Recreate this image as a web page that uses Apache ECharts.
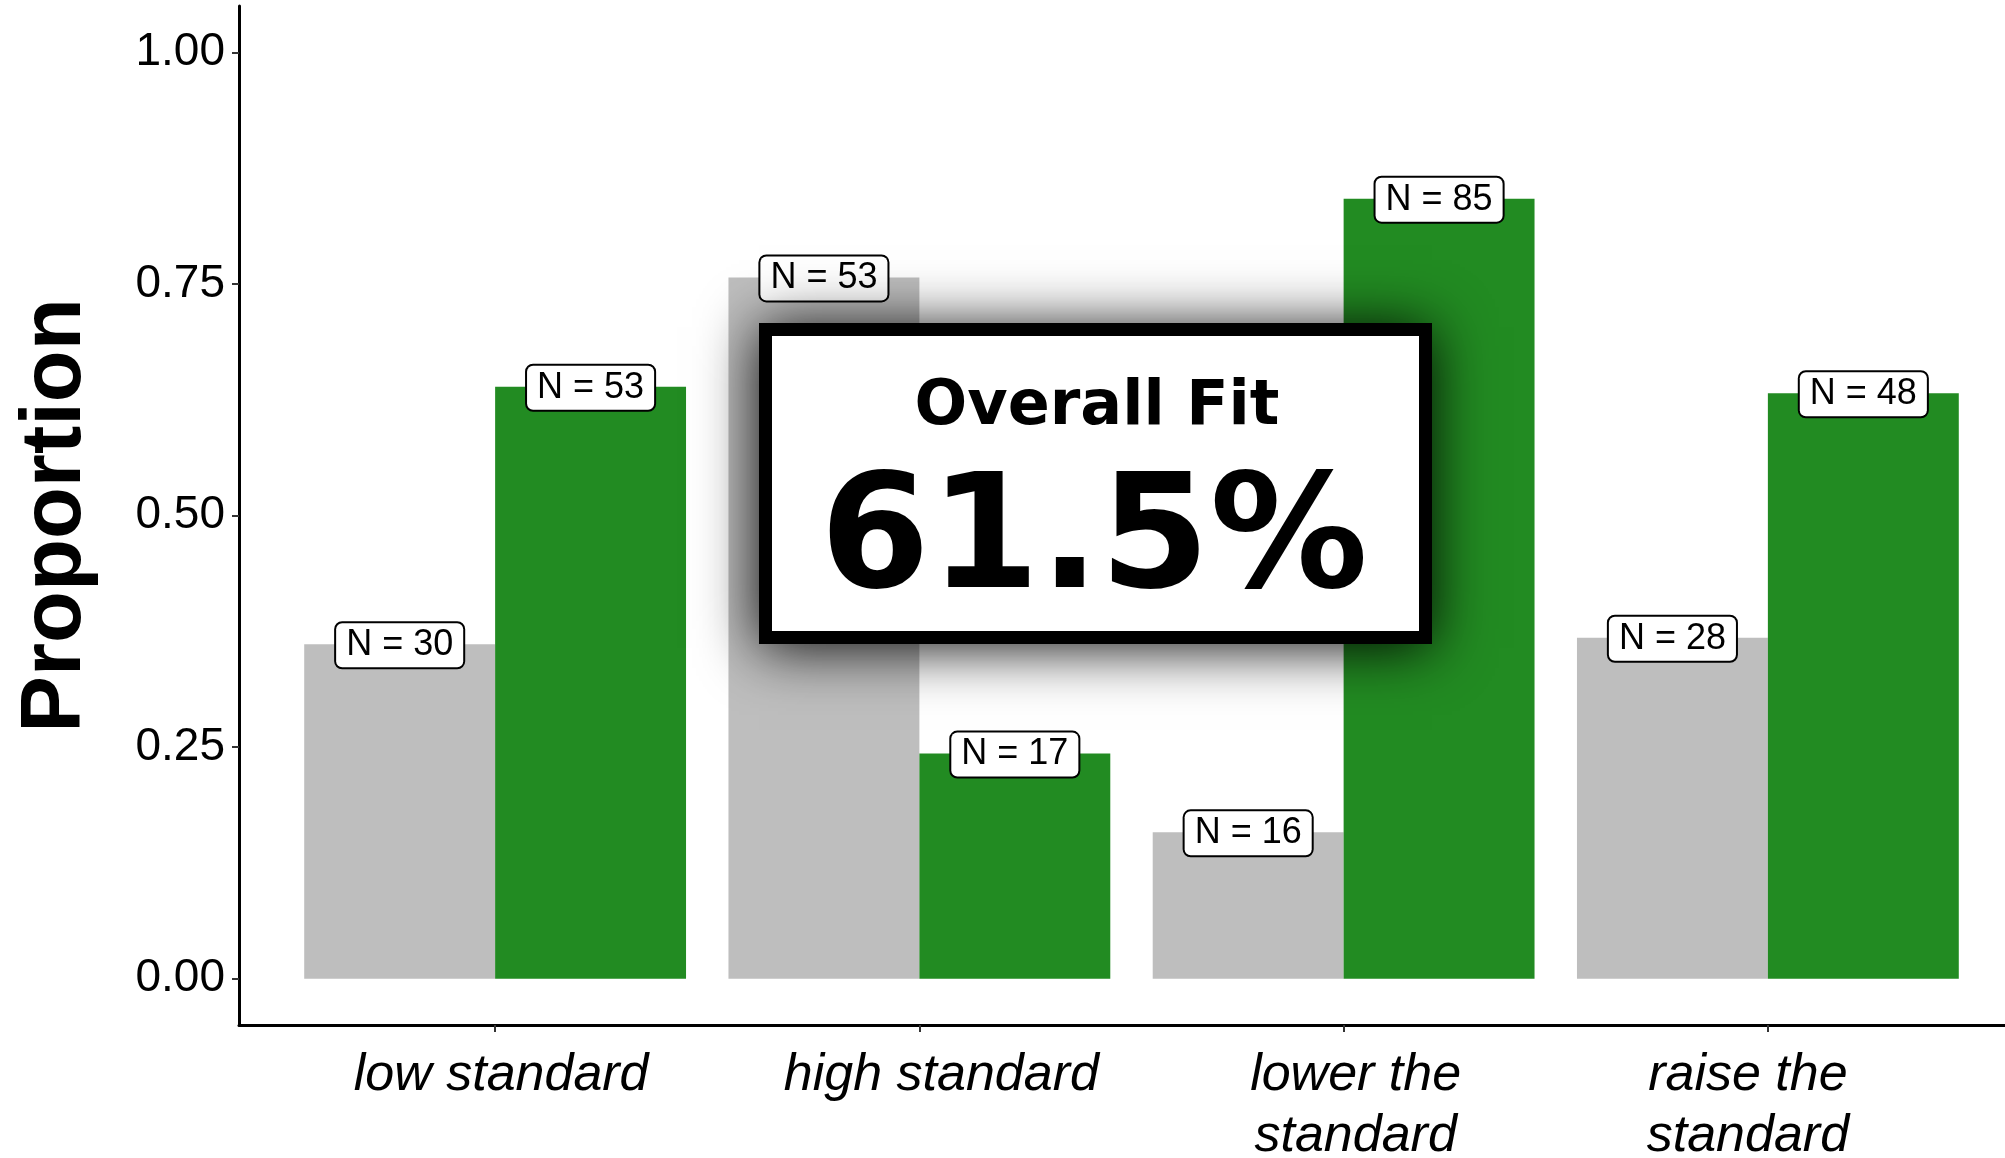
<!DOCTYPE html>
<html>
<head>
<meta charset="utf-8">
<script src="https://cdn.jsdelivr.net/npm/echarts@6/dist/echarts.min.js"></script>
<style>
html, body { margin: 0; padding: 0; background: #ffffff; }
#chart { width: 2005px; height: 1158px; }
</style>
</head>
<body>
<div id="chart"></div>
<script>
// ---- data ----
const categories = ['low standard', 'high standard', 'lower the\nstandard', 'raise the\nstandard'];
const grayValues = [0.361, 0.757, 0.158, 0.368];
const greenValues = [0.639, 0.243, 0.842, 0.632];
const grayN = [30, 53, 16, 28];
const greenN = [53, 17, 85, 48];
const yTickValues = [0, 0.25, 0.5, 0.75, 1.0];
const yAxisTitle = 'Proportion';
const overallTitle = 'Overall Fit';
const overallValue = '61.5%';

// ---- styles ----
const FONT = 'Liberation Sans, Arial, Helvetica, sans-serif';
const BOXFONT = 'DejaVu Sans, sans-serif';
const GRAY = '#BEBEBE';
const GREEN = '#228B22';
// small horizontal nudges of the category label text (px), as in the reference
const labelShift = [6, 22, 12, -20];

const labelStyle = {
  show: true,
  position: 'top',
  distance: -23,
  fontFamily: FONT,
  fontSize: 36,
  lineHeight: 36,
  color: '#000',
  backgroundColor: '#fff',
  borderColor: '#000',
  borderWidth: 2,
  borderRadius: 6,
  padding: [4, 10]
};

const rich = {};
labelShift.forEach((s, i) => {
  rich['c' + i] = {
    fontFamily: FONT, fontSize: 52, fontStyle: 'italic', lineHeight: 61, color: '#000',
    padding: s >= 0 ? [0, 0, 0, 2 * s] : [0, -2 * s, 0, 0]
  };
});

const chart = echarts.init(document.getElementById('chart'), null, { renderer: 'canvas' });

const option = {
  animation: false,
  backgroundColor: '#ffffff',
  grid: [
    { left: 283, right: 25, top: 6, bottom: 133, containLabel: false, outerBoundsMode: 'none' },
    { left: 239, right: 0, top: 6, bottom: 133, containLabel: false, outerBoundsMode: 'none' }
  ],
  xAxis: [
    {
      type: 'category',
      gridIndex: 0,
      data: categories,
      boundaryGap: true,
      axisLine: { show: false, onZero: false },
      axisTick: { show: true, alignWithLabel: true, length: 7, lineStyle: { color: '#333', width: 2 } },
      axisLabel: {
        show: true, interval: 0, margin: 20,
        fontFamily: FONT, fontSize: 52, fontStyle: 'italic', lineHeight: 61, color: '#000',
        formatter: (value, idx) => value.split('\n').map(l => '{c' + idx + '|' + l + '}').join('\n'),
        rich: rich
      },
      splitLine: { show: false }
    },
    {
      type: 'value',
      gridIndex: 1,
      min: 0, max: 1,
      axisLine: { show: true, onZero: false, lineStyle: { color: '#000', width: 3 } },
      axisTick: { show: false },
      axisLabel: { show: false },
      splitLine: { show: false }
    }
  ],
  yAxis: [
    {
      type: 'value',
      gridIndex: 0,
      min: -0.05, max: 1.05,
      axisLine: { show: false },
      axisTick: { show: false },
      axisLabel: { show: false },
      splitLine: { show: false }
    },
    {
      type: 'value',
      gridIndex: 1,
      min: -0.05, max: 1.05,
      name: yAxisTitle,
      nameLocation: 'middle',
      nameGap: 140,
      nameTextStyle: { fontFamily: FONT, fontSize: 85, fontWeight: 'bold', color: '#000' },
      axisLine: { show: true, onZero: false, lineStyle: { color: '#000', width: 3 } },
      axisTick: { show: true, customValues: yTickValues, length: 7, lineStyle: { color: '#333', width: 2 } },
      axisLabel: {
        show: true, customValues: yTickValues, margin: 14,
        fontFamily: FONT, fontSize: 46, color: '#000',
        formatter: v => Number(v).toFixed(2)
      },
      splitLine: { show: false }
    }
  ],
  series: [
    {
      name: 'gray',
      type: 'bar',
      xAxisIndex: 0, yAxisIndex: 0,
      data: grayValues,
      barWidth: '45%',
      barGap: '0%',
      itemStyle: { color: GRAY },
      label: Object.assign({}, labelStyle, { formatter: p => 'N = ' + grayN[p.dataIndex] }),
      z: 2
    },
    {
      name: 'green',
      type: 'bar',
      xAxisIndex: 0, yAxisIndex: 0,
      data: greenValues,
      barWidth: '45%',
      barGap: '0%',
      itemStyle: { color: GREEN },
      label: Object.assign({}, labelStyle, { formatter: p => 'N = ' + greenN[p.dataIndex] }),
      z: 2
    }
  ],
  graphic: [
    {
      type: 'group',
      z: 100,
      children: [
        {
          type: 'rect',
          z: 100,
          shape: { x: 759, y: 323, width: 673, height: 321 },
          style: {
            fill: '#000',
            shadowBlur: 55, shadowColor: 'rgba(0,0,0,0.95)', shadowOffsetX: 0, shadowOffsetY: 4
          }
        },
        {
          type: 'rect',
          z: 101,
          shape: { x: 772, y: 336, width: 647, height: 295 },
          style: { fill: '#fff' }
        },
        {
          type: 'text',
          z: 102,
          x: 1097, y: 408,
          style: {
            text: overallTitle, textAlign: 'center', textVerticalAlign: 'middle',
            fontFamily: BOXFONT, fontWeight: 'bold', fontSize: 62, fill: '#000'
          }
        },
        {
          type: 'text',
          z: 102,
          x: 1094, y: 546,
          style: {
            text: overallValue, textAlign: 'center', textVerticalAlign: 'middle',
            fontFamily: BOXFONT, fontWeight: 'bold', fontSize: 158, fill: '#000'
          }
        }
      ]
    }
  ]
};

chart.setOption(option);
</script>
</body>
</html>
